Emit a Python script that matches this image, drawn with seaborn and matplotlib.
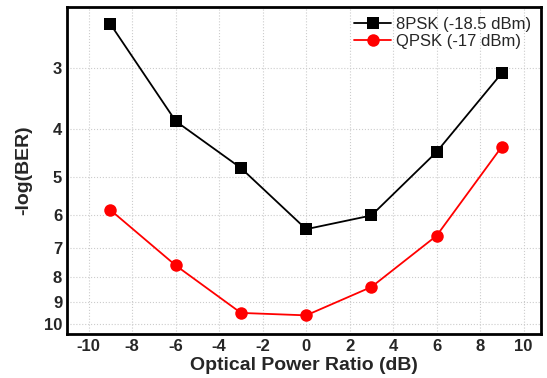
import pandas as pd
import matplotlib
matplotlib.use("Agg")
import matplotlib.pyplot as plt
import seaborn as sns
from matplotlib.ticker import FixedLocator, NullLocator, FixedFormatter, MultipleLocator

# Data
power_ratio = [-9, -6, -3, 0, 3, 6, 9]
psk8_ber = [2.44, 3.85, 4.8, 6.4, 6.0, 4.45, 3.07]
qpsk_ber = [5.85, 7.59, 9.49, 9.6, 8.4, 6.6, 4.34]
y_ticks = [3, 4, 5, 6, 7, 8, 9, 10]
x_ticks = [-10, -8, -6, -4, -2, 0, 2, 4, 6, 8, 10]

df = pd.DataFrame({"ratio": power_ratio, "8PSK (-18.5 dBm)": psk8_ber, "QPSK (-17 dBm)": qpsk_ber})
melted = df.melt(id_vars="ratio", var_name="Series", value_name="ber")

sns.set_style("white")
plt.rcParams["font.family"] = ["Liberation Sans", "DejaVu Sans"]
plt.rcParams["axes.unicode_minus"] = False

fig = plt.figure(figsize=(5.47, 3.78), dpi=100)
ax = fig.add_axes([0.1225, 0.1164, 0.8665, 0.8651])

sns.lineplot(data=melted, x="ratio", y="ber", hue="Series", style="Series",
             palette={"8PSK (-18.5 dBm)": "black", "QPSK (-17 dBm)": "red"},
             markers={"8PSK (-18.5 dBm)": "s", "QPSK (-17 dBm)": "o"},
             dashes=False, markersize=9, linewidth=1.3, markeredgewidth=0, ax=ax)

# log-scale y axis, inverted (higher -log(BER) lower down)
ax.set_yscale("log")
ax.set_ylim(10.48, 2.25)
ax.set_xlim(-11, 10.8)
ax.yaxis.set_major_locator(FixedLocator(y_ticks))
ax.yaxis.set_major_formatter(FixedFormatter([str(t) for t in y_ticks]))
ax.yaxis.set_minor_locator(NullLocator())
ax.xaxis.set_major_locator(FixedLocator(x_ticks))
ax.xaxis.set_minor_locator(MultipleLocator(1))

ax.grid(True, which="major", color="#cccccc", linestyle=":", linewidth=0.8)
ax.tick_params(which="both", direction="in", width=1.5, labelsize=12)
ax.tick_params(which="major", length=5)
ax.tick_params(which="minor", length=3)
ax.tick_params(axis="x", which="both", top=False)
ax.tick_params(axis="y", which="both", right=False)
for lbl in ax.get_xticklabels() + ax.get_yticklabels():
    lbl.set_fontweight("bold")
for sp in ax.spines.values():
    sp.set_linewidth(2)
    sp.set_color("black")

ax.set_xlabel("Optical Power Ratio (dB)", fontsize=14, fontweight="bold", labelpad=2)
ax.set_ylabel("-log(BER)", fontsize=14, fontweight="bold", labelpad=8)

leg = ax.legend(loc="upper right", frameon=False, fontsize=12, handlelength=2.2,
                borderaxespad=0.2, handletextpad=0.3, labelspacing=0.1)

fig.savefig("out.png", dpi=100)
